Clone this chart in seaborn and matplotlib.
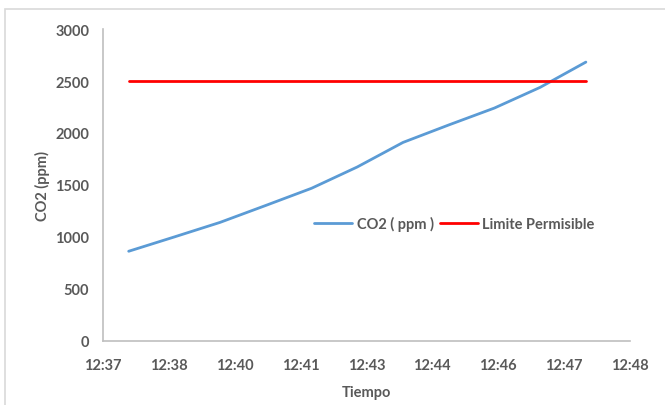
import numpy as np
import pandas as pd
import matplotlib
matplotlib.use('Agg')
import matplotlib.pyplot as plt
import seaborn as sns
from matplotlib.patches import Rectangle

# minutes after 12:00
minutes = [38, 39, 40, 41, 42, 43, 44, 45, 46, 47, 48]
co2_ppm = [862, 1000, 1140, 1303, 1468, 1673, 1909, 2077, 2240, 2439, 2682]
limit_ppm = 2500

tick_labels = ['12:37', '12:38', '12:40', '12:41', '12:43', '12:44', '12:46', '12:47', '12:48']
y_ticks = [0, 500, 1000, 1500, 2000, 2500, 3000]

df = pd.DataFrame({'minute': minutes, 'co2': co2_ppm})
df['limit'] = limit_ppm

sns.set_style('white')
plt.rcParams['font.family'] = ['Lato', 'DejaVu Sans']

gray = '#595959'
fs = 10.5
fig = plt.figure(figsize=(6.65, 4.06), dpi=100)
ax = fig.add_axes([0.155, 0.158, 0.792, 0.768])

sns.lineplot(data=df, x='minute', y='co2', ax=ax, color='#5B9BD5', linewidth=2.0, label='CO2 ( ppm )')
sns.lineplot(data=df, x='minute', y='limit', ax=ax, color='#FF0000', linewidth=2.0, label='Limite Permisible')

# Excel-like date axis: ticks every 0.001 day (1.44 min)
x_ticks = 37.44 + 1.44 * np.arange(len(tick_labels))
ax.set_xlim(x_ticks[0], x_ticks[-1])
ax.set_xticks(x_ticks)
ax.set_xticklabels(tick_labels)
ax.set_ylim(0, 3000)
ax.set_yticks(y_ticks)

ax.tick_params(axis='both', length=0, labelsize=fs, labelcolor=gray)
ax.tick_params(axis='x', pad=12)
ax.tick_params(axis='y', pad=10)
for lbl in ax.get_xticklabels() + ax.get_yticklabels():
    lbl.set_fontweight('bold')

ax.set_xlabel('Tiempo', fontsize=fs, fontweight='bold', color=gray, labelpad=10)
ax.set_ylabel('CO2 (ppm)', fontsize=fs, fontweight='bold', color=gray, labelpad=4)

for side in ['top', 'right']:
    ax.spines[side].set_visible(False)
for side in ['left', 'bottom']:
    ax.spines[side].set_color('#BFBFBF')
    ax.spines[side].set_linewidth(1.2)

leg = ax.legend(loc='center', bbox_to_anchor=(0.667, 0.375), ncol=2, frameon=False,
                fontsize=fs, handlelength=2.6, columnspacing=0.4, handletextpad=0.3)
for t in leg.get_texts():
    t.set_color(gray)
    t.set_fontweight('bold')

# chart border
fig.patches.append(Rectangle((5 / 665, -0.01), 1.0, 1 - 9.5 / 406 + 0.01, transform=fig.transFigure,
                             fill=False, edgecolor='#D9D9D9', linewidth=1.2))

fig.savefig('out.png', dpi=100)
